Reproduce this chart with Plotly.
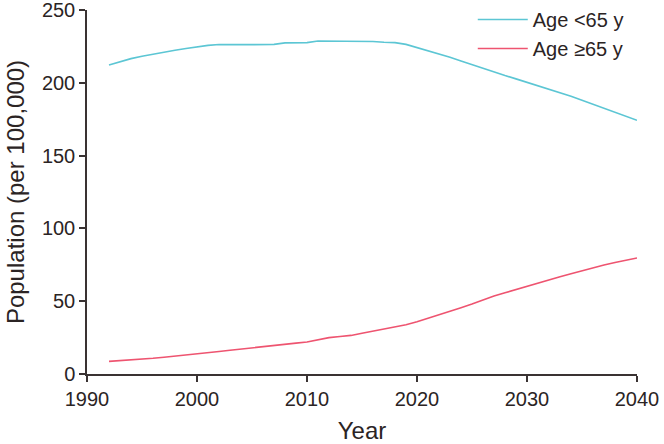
import plotly.graph_objects as go

years = list(range(1992, 2041))
under65 = [212.2, 214.5, 216.6, 218.2, 219.7, 221.1, 222.3, 223.6, 224.8, 225.7,
           226.3, 226.5, 226.2, 226.2, 226.3, 226.4, 227.4, 227.5, 227.6, 228.7,
           228.6, 228.6, 228.7, 228.8, 228.4, 227.9, 227.6, 226.4, 224.3, 222.0,
           219.7, 217.5, 215.0, 212.4, 209.8, 207.4, 205.0, 202.7, 200.4, 198.1,
           195.8, 193.3, 190.8, 188.1, 185.4, 182.7, 180.0, 177.1, 174.2]
over65 = [8.7, 9.1, 9.6, 10.1, 10.8, 11.5, 12.2, 13.0, 13.8, 14.7,
          15.5, 16.3, 17.2, 18.1, 18.9, 19.7, 20.5, 21.2, 22.0, 23.5,
          25.0, 25.8, 26.5, 28.0, 29.4, 30.8, 32.0, 33.8, 35.9, 38.2,
          40.4, 42.9, 45.5, 48.0, 50.9, 53.5, 55.8, 58.1, 60.4, 62.6,
          64.7, 66.8, 68.9, 71.0, 72.9, 74.9, 76.6, 78.2, 79.7]
series_names = ["Age <65 y", "Age \u226565 y"]
x_ticks = [1990, 2000, 2010, 2020, 2030, 2040]
y_ticks = [0, 50, 100, 150, 200, 250]

font_family = "Liberation Sans, Arial, sans-serif"
axis_color = "#3a3333"

fig = go.Figure()
fig.add_trace(go.Scatter(x=years, y=under65, mode="lines", name=series_names[0],
                         line=dict(color="#5cc6d4", width=1.6)))
fig.add_trace(go.Scatter(x=years, y=over65, mode="lines", name=series_names[1],
                         line=dict(color="#ee5470", width=1.6)))

fig.update_layout(
    width=664, height=444,
    margin=dict(l=87, r=27, t=10, b=70, autoexpand=False),
    paper_bgcolor="white", plot_bgcolor="white",
    font=dict(family=font_family, size=20, color="#2b2424"),
    showlegend=True,
    legend=dict(x=0.712, y=1.01, xref="container", yref="container",
                xanchor="left", yanchor="top",
                bgcolor="rgba(0,0,0,0)", font=dict(size=20),
                tracegroupgap=0, itemwidth=50),
)
fig.update_xaxes(
    range=[1990, 2040], tickvals=x_ticks, ticktext=[str(v) for v in x_ticks],
    showgrid=False, zeroline=False, showline=True, linecolor=axis_color, linewidth=1.5,
    ticks="outside", ticklen=6, tickcolor=axis_color, tickwidth=1.5,
    title=dict(text="Year", standoff=16), fixedrange=True, automargin=False,
    ticklabeloverflow="allow",
)
fig.update_yaxes(
    range=[0, 250], tickvals=y_ticks, ticktext=[str(v) for v in y_ticks],
    showgrid=False, zeroline=False, showline=True, linecolor=axis_color, linewidth=1.5,
    ticks="outside", ticklen=6, tickcolor=axis_color, tickwidth=1.5,
    title=dict(text="Population (per 100,000)", standoff=10), fixedrange=True, automargin=False,
    ticklabeloverflow="allow",
)

fig.write_html("out.html", config={"displayModeBar": False},
               post_script="document.body.style.margin='0px';")
